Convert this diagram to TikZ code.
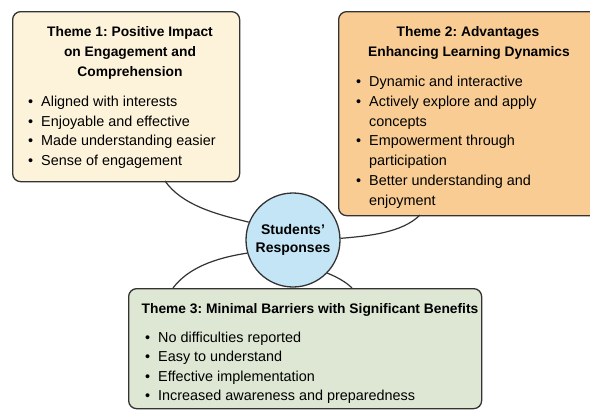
\documentclass[tikz,border=0pt]{standalone}
\usepackage{fontspec}
\setmainfont{Liberation Sans}
\frenchspacing
\definecolor{bordc}{HTML}{333333}
\definecolor{creamc}{HTML}{FDF3DA}
\definecolor{orangec}{HTML}{F9CC93}
\definecolor{greenc}{HTML}{DDE7D4}
\definecolor{bluec}{HTML}{C3E5F5}
\tikzset{
  themebox/.style={draw=bordc, line width=1.3pt, rounded corners=8pt, anchor=north west, inner sep=0pt},
  ttl/.style={anchor=base, font=\fontsize{13.8}{18}\selectfont\bfseries, inner sep=0pt},
  itm/.style={anchor=base west, font=\fontsize{14.4}{18}\selectfont, inner sep=0pt},
  bul/.style={anchor=base west, font=\fontsize{14.4}{18}\selectfont, inner sep=0pt},
  link/.style={draw=bordc, line width=1.2pt},
  hub/.style={circle, draw=bordc, line width=1.3pt, fill=bluec, minimum size=94pt, inner sep=0pt, align=center, font=\fontsize{14}{18.5}\selectfont\bfseries}
}
\begin{document}
\begin{tikzpicture}[x=1pt,y=-1pt]
\useasboundingbox[fill=white] (0,0) rectangle (590,410);
% boxes
\node[themebox, fill=creamc, minimum width=227pt, minimum height=170pt] (t1) at (12,11) {};
\node[themebox, fill=orangec, minimum width=270pt, minimum height=204pt] (t2) at (338,11) {};
\node[themebox, fill=greenc, minimum width=353pt, minimum height=120pt] (t3) at (128,288) {};
\node[hub] (hub) at (293,240) {Students’\\Responses};
% connectors
\coordinate (c1) at (165,181);
\coordinate (c2) at (420,215);
\coordinate (c3) at (173,288);
\coordinate (c4) at (352,288);
\draw[link] (c1) .. controls (182,205) and (215,214) .. (hub.158);
\draw[link] (c2) .. controls (402,233) and (368,236) .. (hub.2);
\draw[link] (hub.196) .. controls (215,258) and (188,268) .. (c3);
\draw[link] (hub.316) .. controls (337,277) and (346,282) .. (c4);
% theme 1
\node[ttl] (t1a) at (130,36) {Theme 1: Positive Impact};
\node[ttl] (t1b) at (130,56) {on Engagement and};
\node[ttl] (t1c) at (130,76) {Comprehension};
\foreach \yy/\tx [count=\i] in {106/Aligned with interests,126/Enjoyable and effective,145/Made understanding easier,165/Sense of engagement}{
  \node[bul] (t1b\i) at (28,\yy) {•};
  \node[itm] (t1i\i) at (41,\yy) {\tx};
}
% theme 2
\node[ttl] (t2a) at (468,36) {Theme 2: Advantages};
\node[ttl] (t2b) at (469,56) {Enhancing Learning Dynamics};
\foreach \yy in {86,106,145,185}{
  \node[bul] (t2b\yy) at (356,\yy) {•};
}
\foreach \yy/\tx [count=\i] in {86/Dynamic and interactive,106/Actively explore and apply,126/concepts,145/Empowerment through,165/participation,185/Better understanding and,205/enjoyment}{
  \node[itm] (t2i\i) at (369,\yy) {\tx};
}
% theme 3
\node[ttl] (t3a) at (310,313) {Theme 3: Minimal Barriers with Significant Benefits};
\foreach \yy/\tx [count=\i] in {342/No difficulties reported,361/Easy to understand,381/Effective implementation,400/Increased awareness and preparedness}{
  \node[bul] (t3b\i) at (145,\yy) {•};
  \node[itm] (t3i\i) at (158,\yy) {\tx};
}
\end{tikzpicture}
\end{document}
